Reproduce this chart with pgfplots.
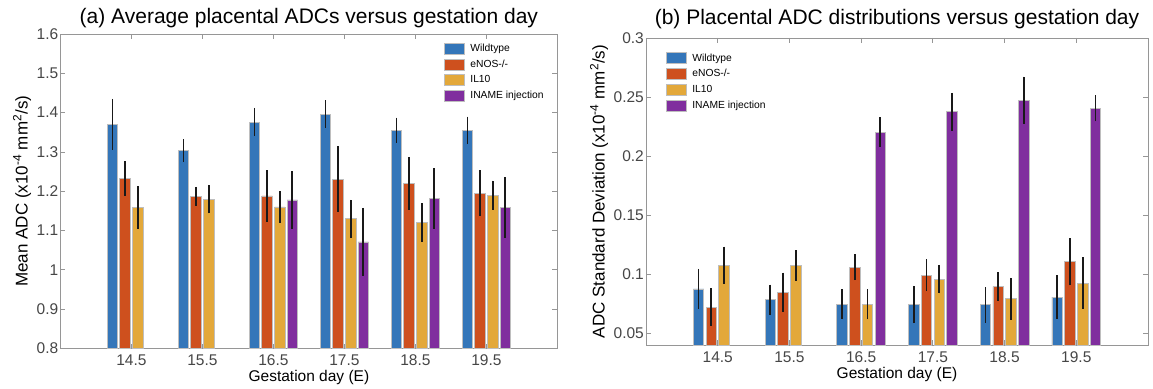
\documentclass[border=0pt]{standalone}
\usepackage{fontspec}
\setmainfont{Liberation Sans}
\usepackage{pgfplots}
\pgfplotsset{compat=1.18}

\definecolor{cB}{RGB}{52,118,185}
\definecolor{cO}{RGB}{206,80,30}
\definecolor{cY}{RGB}{227,168,58}
\definecolor{cP}{RGB}{128,46,158}
\definecolor{axgray}{RGB}{150,150,150}
\definecolor{tickgray}{RGB}{70,70,70}
\definecolor{edgegray}{RGB}{190,190,190}

\pgfplotsset{
 mylegend/.style={legend image code/.code={\draw[##1, draw=edgegray, line width=0.6pt] (0pt,-5.5pt) rectangle (20pt,5.5pt);}},
 mybar/.style={ybar, bar width=0.146, bar shift=0pt, draw=edgegray, line width=0.8pt, mylegend,
   x filter/.expression={x+(#1)},
   error bars/y dir=both, error bars/y explicit, error bars/error mark=none,
   error bars/error bar style={black!90, line width=1.8pt}},
 myaxis/.style={
  scale only axis,
  anchor=south west,
  xmin=13.5, xmax=20.5,
  xtick={14.5,15.5,16.5,17.5,18.5,19.5},
  xticklabels={14.5,15.5,16.5,17.5,18.5,19.5},
  tick align=inside,
  xtick pos=both, ytick pos=both,
  xticklabel pos=lower, yticklabel pos=left,
  major tick length=5pt,
  axis line style={axgray, line width=0.8pt},
  every tick/.style={axgray, line width=0.8pt},
  tick label style={font=\fontsize{15.5}{17}\selectfont, text=tickgray},
  yticklabel style={inner xsep=2pt},
  xticklabel style={yshift=-3pt},
  /pgf/number format/assume math mode=true,
  xlabel style={font=\fontsize{15.5}{17}\selectfont, yshift=2.5pt},
  ylabel style={font=\fontsize{17}{19}\selectfont},
  title style={font=\fontsize{21}{24}\selectfont},
  legend style={draw=none, fill=none, font=\fontsize{10.3}{12}\selectfont,
     row sep=3pt, anchor=north west, legend cell align=left,
     /tikz/every odd column/.append style={column sep=4pt}},
 }
}

\begin{document}
\begin{tikzpicture}[x=1pt,y=1pt]
\path[use as bounding box] (0,0) rectangle (1153,388);

\begin{axis}[myaxis,
  at={(60.4pt,39.5pt)}, width=497pt, height=314.5pt,
  ymin=0.8, ymax=1.6,
  ytick={0.8,0.9,1,1.1,1.2,1.3,1.4,1.5,1.6},
  title={(a) Average placental ADCs versus gestation day},
  title style={yshift=-3pt},
  xlabel={Gestation day (E)},
  ylabel={Mean ADC (x10\textsuperscript{-4} mm\textsuperscript{2}/s)},
  legend style={at={(0.765,0.982)}},
]
\addplot[mybar=-0.267, fill=cB] coordinates {
 (14.5,1.370) +- (0,0.065)
 (15.5,1.303) +- (0,0.029)
 (16.5,1.376) +- (0,0.036)
 (17.5,1.396) +- (0,0.035)
 (18.5,1.355) +- (0,0.032)
 (19.5,1.355) +- (0,0.035)
};
\addplot[mybar=-0.089, fill=cO] coordinates {
 (14.5,1.232) +- (0,0.044)
 (15.5,1.187) +- (0,0.024)
 (16.5,1.188) +- (0,0.066)
 (17.5,1.231) +- (0,0.083)
 (18.5,1.220) +- (0,0.067)
 (19.5,1.195) +- (0,0.058)
};
\addplot[mybar=0.089, fill=cY] coordinates {
 (14.5,1.159) +- (0,0.054)
 (15.5,1.180) +- (0,0.036)
 (16.5,1.160) +- (0,0.040)
 (17.5,1.130) +- (0,0.048)
 (18.5,1.120) +- (0,0.049)
 (19.5,1.190) +- (0,0.037)
};
\addplot[mybar=0.267, fill=cP] coordinates {
 (16.5,1.178) +- (0,0.073)
 (17.5,1.071) +- (0,0.087)
 (18.5,1.182) +- (0,0.077)
 (19.5,1.159) +- (0,0.077)
};
\legend{Wildtype, eNOS-/-, IL10, INAME injection}
\end{axis}

\begin{axis}[myaxis,
  at={(646pt,43pt)}, width=502pt, height=307pt,
  ymin=0.04, ymax=0.3,
  ytick={0.05,0.1,0.15,0.2,0.25,0.3},
  scaled y ticks=false,
  yticklabel style={/pgf/number format/fixed, /pgf/number format/precision=2},
  title={(b) Placental ADC distributions versus gestation day},
  xlabel={Gestation day (E)},
  ylabel={ADC Standard Deviation (x10\textsuperscript{-4} mm\textsuperscript{2}/s)},
  legend style={at={(0.033,0.963)}},
]
\addplot[mybar=-0.267, fill=cB] coordinates {
 (14.5,0.0875) +- (0,0.0170)
 (15.5,0.0782) +- (0,0.0130)
 (16.5,0.0746) +- (0,0.0128)
 (17.5,0.0743) +- (0,0.0157)
 (18.5,0.0740) +- (0,0.0150)
 (19.5,0.0805) +- (0,0.0185)
};
\addplot[mybar=-0.089, fill=cO] coordinates {
 (14.5,0.0720) +- (0,0.0160)
 (15.5,0.0848) +- (0,0.0165)
 (16.5,0.1059) +- (0,0.0110)
 (17.5,0.0992) +- (0,0.0136)
 (18.5,0.0895) +- (0,0.0120)
 (19.5,0.1104) +- (0,0.0200)
};
\addplot[mybar=0.089, fill=cY] coordinates {
 (14.5,0.1076) +- (0,0.0157)
 (15.5,0.1073) +- (0,0.0130)
 (16.5,0.0746) +- (0,0.0128)
 (17.5,0.0958) +- (0,0.0120)
 (18.5,0.0791) +- (0,0.0178)
 (19.5,0.0924) +- (0,0.0218)
};
\addplot[mybar=0.267, fill=cP] coordinates {
 (16.5,0.2203) +- (0,0.0126)
 (17.5,0.2375) +- (0,0.0160)
 (18.5,0.2472) +- (0,0.0200)
 (19.5,0.2404) +- (0,0.0110)
};
\legend{Wildtype, eNOS-/-, IL10, INAME injection}
\end{axis}
\end{tikzpicture}
\end{document}
